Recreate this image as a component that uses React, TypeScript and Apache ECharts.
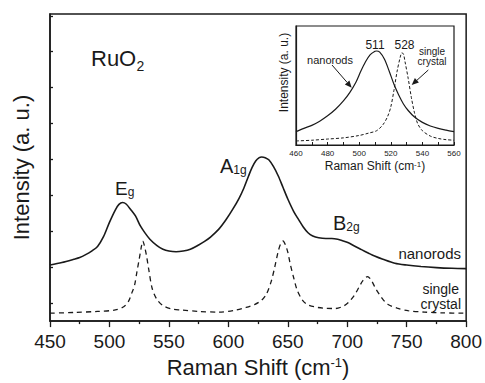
import React, { useEffect, useRef } from "react";
import * as echarts from "echarts";

// ---------- main panel data ----------
const nanoX = [450, 460, 470, 475, 480, 485, 490, 495, 500, 505, 508, 511, 514, 518, 522, 526, 530, 534, 540, 545, 550, 556, 562, 568, 575, 580, 585, 592, 598, 604, 609, 613, 617, 620, 623, 626, 628, 631, 634, 638, 642, 646, 650, 655, 659, 663, 667, 671, 676, 682, 687, 692, 696, 701, 706, 712, 718, 723, 730, 740, 750, 762, 775, 788, 800];
const nanoY = [1.56, 1.63, 1.72, 1.77, 1.85, 1.95, 2.08, 2.35, 2.75, 3.10, 3.25, 3.30, 3.26, 3.10, 2.92, 2.65, 2.45, 2.28, 2.10, 2.00, 1.95, 1.93, 1.95, 2.00, 2.12, 2.22, 2.34, 2.56, 2.82, 3.13, 3.42, 3.70, 4.04, 4.28, 4.46, 4.55, 4.57, 4.55, 4.49, 4.30, 4.04, 3.72, 3.40, 3.05, 2.83, 2.62, 2.46, 2.37, 2.32, 2.30, 2.30, 2.28, 2.24, 2.18, 2.09, 1.99, 1.89, 1.81, 1.72, 1.61, 1.56, 1.52, 1.49, 1.47, 1.46];

const crystX = [450, 470, 490, 505, 512, 516, 519, 521, 523, 525, 527, 528, 529, 531, 533, 536, 540, 545, 552, 560, 575, 592, 605, 615, 622, 628, 632, 636, 639, 642, 644, 646, 648, 650, 652, 655, 658, 662, 666, 672, 680, 690, 697, 701, 706, 710, 713, 717, 720, 724, 729, 734, 742, 751, 765, 780, 800];
const crystY = [0.22, 0.24, 0.27, 0.31, 0.40, 0.55, 0.80, 0.98, 1.35, 1.72, 2.10, 2.23, 2.15, 1.85, 1.45, 0.90, 0.60, 0.43, 0.34, 0.31, 0.27, 0.25, 0.30, 0.38, 0.46, 0.58, 0.75, 1.10, 1.50, 1.95, 2.15, 2.23, 2.12, 1.92, 1.60, 1.20, 0.85, 0.60, 0.47, 0.40, 0.36, 0.35, 0.42, 0.52, 0.72, 0.95, 1.12, 1.24, 1.15, 0.90, 0.65, 0.47, 0.36, 0.29, 0.25, 0.23, 0.22];

const mainXTicks = [450, 500, 550, 600, 650, 700, 750, 800];
const mainYTickValues = [0.5, 1.5, 2.5, 3.5, 4.5, 5.5, 6.5, 7.5, 8.5];

// ---------- inset data ----------
const insetNanoX = [460, 465, 470, 475, 480, 485, 490, 494, 498, 501, 504, 507, 510, 511, 513, 516, 519, 522, 525, 528, 531, 535, 540, 545, 550, 555, 560];
const insetNanoY = [0.112, 0.14, 0.165, 0.20, 0.245, 0.30, 0.37, 0.44, 0.53, 0.62, 0.70, 0.76, 0.788, 0.79, 0.78, 0.72, 0.62, 0.51, 0.42, 0.345, 0.29, 0.235, 0.19, 0.16, 0.14, 0.125, 0.112];
const insetCrystX = [460, 470, 480, 490, 500, 506, 511, 515, 518, 520, 522, 524, 526, 527, 528, 529, 531, 533, 535, 537, 540, 545, 550, 555, 560];
const insetCrystY = [0.034, 0.04, 0.05, 0.06, 0.08, 0.10, 0.12, 0.17, 0.24, 0.32, 0.46, 0.62, 0.74, 0.775, 0.765, 0.70, 0.56, 0.40, 0.27, 0.18, 0.12, 0.075, 0.055, 0.045, 0.04];

const FONT = "'Liberation Sans', Arial, Helvetica, sans-serif";
const INK = "#1a1a1a";

const zip = (xs: number[], ys: number[]) => xs.map((x, i) => [x, ys[i]]);

function arrow(x1: number, y1: number, x2: number, y2: number) {
  const dx = x2 - x1, dy = y2 - y1;
  const L = Math.hypot(dx, dy);
  const ux = dx / L, uy = dy / L;
  const hl = 7, hw = 3;
  const bx = x2 - ux * hl, by = y2 - uy * hl;
  return [
    { type: "line", shape: { x1, y1, x2: bx, y2: by }, style: { stroke: INK, lineWidth: 1 } },
    {
      type: "polygon",
      shape: { points: [[x2, y2], [bx - uy * hw, by + ux * hw], [bx + uy * hw, by - ux * hw]] },
      style: { fill: INK },
    },
  ];
}

function txt(text: string, x: number, y: number, size: number, align = "center") {
  return {
    type: "text",
    x,
    y,
    style: { text, fontSize: size, fontFamily: FONT, fill: INK, align, verticalAlign: "middle" },
    z: 10,
  };
}

// main text followed by a smaller text on (about) the same baseline
function subTxt(main: string, sub: string, x: number, y: number, fm: number, fs: number) {
  return {
    type: "text",
    x,
    y,
    style: {
      text: `{m|${main}}{s|${sub}}`,
      align: "left",
      verticalAlign: "middle",
      rich: {
        m: { fontSize: fm, fontFamily: FONT, fill: INK, lineHeight: fm, verticalAlign: "bottom" },
        s: { fontSize: fs, fontFamily: FONT, fill: INK, lineHeight: fs, verticalAlign: "bottom" },
      },
    },
    z: 10,
  };
}

export default function App() {
  const ref = useRef<HTMLDivElement>(null);
  useEffect(() => {
    document.body.style.margin = "0";
    if (!ref.current) return;
    const chart = echarts.init(ref.current, null, { renderer: "svg" });
    const option: any = {
      animation: false,
      backgroundColor: "#fff",
      grid: [
        { left: 50, top: 14, width: 419, height: 308, show: true, borderColor: INK, borderWidth: 1.5, backgroundColor: "transparent" },
        { left: 296, top: 26, width: 158, height: 119, show: true, borderColor: INK, borderWidth: 1.2, backgroundColor: "#fff" },
      ],
      xAxis: [
        {
          gridIndex: 0, type: "value", min: 450, max: 800, interval: 50,
          axisLine: { lineStyle: { color: INK, width: 1.5 } },
          axisTick: { show: true, length: 6, inside: false, lineStyle: { color: INK, width: 1.3 } },
          minorTick: { show: true, splitNumber: 2, length: 3, lineStyle: { color: INK, width: 1.3 } },
          splitLine: { show: false },
          axisLabel: { fontSize: 19, fontFamily: FONT, color: INK, margin: 11, formatter: (v: number) => (mainXTicks.includes(v) ? String(v) : "") },
          name: "Raman Shift (cm{sup|-1})",
          nameLocation: "middle",
          nameGap: 22,
          nameTextStyle: { fontSize: 22, fontFamily: FONT, color: INK, rich: { sup: { fontSize: 13, fontFamily: FONT, color: INK, verticalAlign: "top" } } },
        },
        {
          gridIndex: 1, type: "value", min: 460, max: 560, interval: 10,
          axisLine: { lineStyle: { color: INK, width: 1.2 } },
          axisTick: { show: true, length: 3, inside: true, lineStyle: { color: INK, width: 1 } },
          splitLine: { show: false },
          axisLabel: { fontSize: 8, fontFamily: FONT, color: INK, margin: 4, formatter: (v: number) => (v % 20 === 0 ? String(v) : "") },
          name: "Raman Shift (cm{sup|-1})",
          nameLocation: "middle",
          nameGap: 15,
          nameTextStyle: { fontSize: 12, fontFamily: FONT, color: INK, rich: { sup: { fontSize: 8, fontFamily: FONT, color: INK, verticalAlign: "top" } } },
        },
      ],
      yAxis: [
        {
          gridIndex: 0, type: "value", min: 0, max: 8.55,
          axisLine: { lineStyle: { color: INK, width: 1.5 } },
          axisTick: { show: true, inside: true, length: 3, customValues: mainYTickValues, lineStyle: { color: INK, width: 1.3 } },
          axisLabel: { show: false },
          splitLine: { show: false },
          name: "Intensity (a. u.)",
          nameLocation: "middle",
          nameGap: 18,
          nameTextStyle: { fontSize: 22, fontFamily: FONT, color: INK },
        },
        {
          gridIndex: 1, type: "value", min: 0, max: 1,
          axisLine: { lineStyle: { color: INK, width: 1.2 } },
          axisTick: { show: false },
          axisLabel: { show: false },
          splitLine: { show: false },
        },
      ],
      series: [
        {
          type: "line", xAxisIndex: 0, yAxisIndex: 0, data: zip(nanoX, nanoY), showSymbol: false,
          smooth: 0.3, lineStyle: { color: INK, width: 1.6 },
        },
        {
          type: "line", xAxisIndex: 0, yAxisIndex: 0, data: zip(crystX, crystY), showSymbol: false,
          smooth: 0.3, lineStyle: { color: INK, width: 1.3, type: [5, 4] },
        },
        {
          type: "line", xAxisIndex: 1, yAxisIndex: 1, data: zip(insetNanoX, insetNanoY), showSymbol: false,
          smooth: 0.3, lineStyle: { color: INK, width: 1.2 },
        },
        {
          type: "line", xAxisIndex: 1, yAxisIndex: 1, data: zip(insetCrystX, insetCrystY), showSymbol: false,
          smooth: 0.3, lineStyle: { color: INK, width: 1, type: [3, 2] },
        },
      ],
      graphic: [
        txt("RuO", 91, 58, 22, "left"),
        txt("2", 136.5, 66, 14, "left"),
        subTxt("E", "g", 115, 188, 19, 12),
        subTxt("A", "1g", 220, 166, 20, 12),
        subTxt("B", "2g", 333, 222.5, 20, 12),
        txt("nanorods", 461, 253, 15, "right"),
        txt("single", 459, 289, 14, "right"),
        txt("crystal", 461, 303.5, 14, "right"),
        txt("511", 375, 45, 12),
        txt("528", 404.5, 45, 12),
        txt("nanorods", 330, 60, 11),
        txt("single", 432, 51, 10),
        txt("crystal", 432, 61, 10),
        {
          type: "text", x: 284, y: 72.5, rotation: Math.PI / 2,
          style: { text: "Intensity (a. u.)", fontSize: 12, fontFamily: FONT, fill: INK, align: "center", verticalAlign: "middle" },
          z: 10,
        },
        ...arrow(332, 65, 351.7, 87.7),
        ...arrow(428.3, 70, 411.7, 85),
      ],
    };
    chart.setOption(option);
    return () => chart.dispose();
  }, []);
  return <div ref={ref} style={{ width: 485, height: 383 }} />;
}
